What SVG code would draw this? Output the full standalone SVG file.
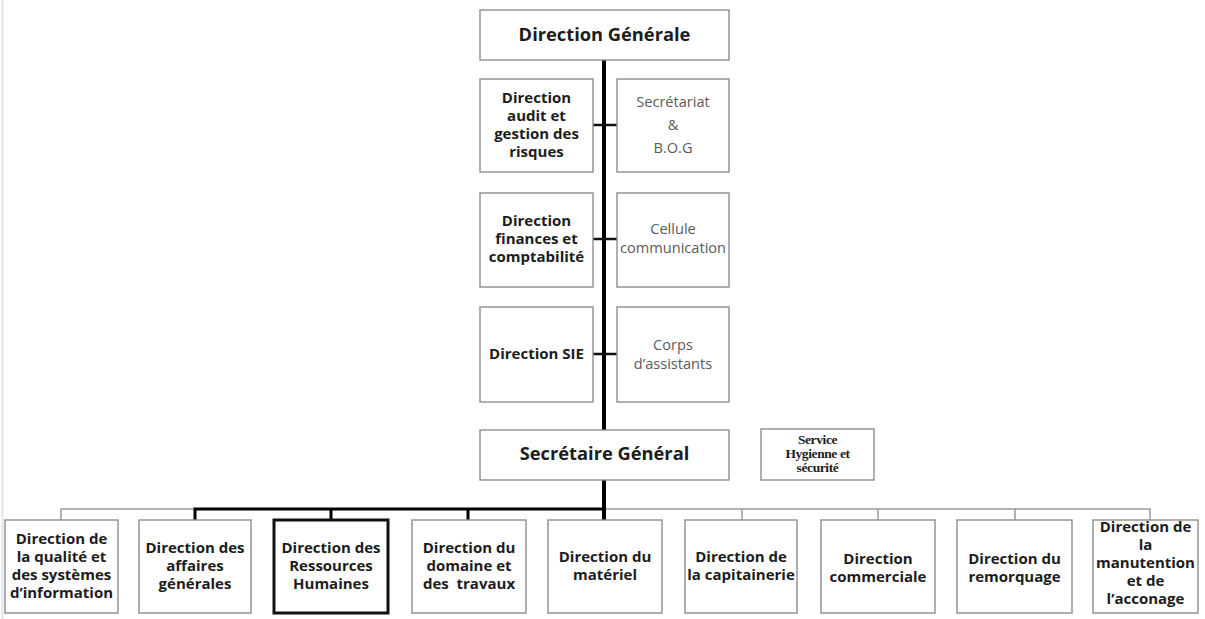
<svg xmlns="http://www.w3.org/2000/svg" width="1205" height="619" viewBox="0 0 1205 619">
  <style>
    .box { fill: #ffffff; stroke: #8e8e8e; stroke-width: 1.4; }
    .box-strong { fill: #ffffff; stroke: #111111; stroke-width: 3; }
    .t { font-family: "Open Sans", "Liberation Sans", sans-serif; font-weight: bold; font-size: 15px; fill: #1c1c1c; text-anchor: middle; }
    .t-big { font-family: "Open Sans", "Liberation Sans", sans-serif; font-weight: bold; font-size: 18.3px; fill: #1c1c1c; text-anchor: middle; }
    .t-light { font-family: "Open Sans", "Liberation Sans", sans-serif; font-size: 14.6px; fill: #5a5a5a; text-anchor: middle; }
    .t-serif { font-family: "Liberation Serif", "DejaVu Serif", serif; font-weight: bold; font-size: 13.5px; fill: #1c1c1c; text-anchor: middle; letter-spacing: -0.4px; }
    .link-main { stroke: #000000; stroke-width: 4; fill: none; }
    .link-strong { stroke: #000000; stroke-width: 3; fill: none; }
    .link-tie { stroke: #111111; stroke-width: 2.5; fill: none; }
    .link-thin { stroke: #9a9a9a; stroke-width: 1.5; fill: none; }
  </style>

  <rect x="0" y="0" width="1205" height="619" fill="#ffffff"/>
  <!-- page margin rule -->
  <line x1="2.5" y1="0" x2="2.5" y2="619" stroke="#dde6f0" stroke-width="2"/>

  <g id="connectors">
    <!-- thin branch bar and drops -->
    <path class="link-thin" d="M61 520 V509 H1150 V520"/>
    <path class="link-thin" d="M742 509 V520 M878 509 V520 M1015 509 V520"/>
    <!-- main spine -->
    <line class="link-main" x1="604" y1="60" x2="604" y2="430"/>
    <line class="link-main" x1="604" y1="480" x2="604" y2="520"/>
    <!-- heavy branch bar and drops -->
    <path class="link-strong" d="M195 520 V509 H604"/>
    <path class="link-strong" d="M331 509 V520 M468 509 V520"/>
    <!-- staff ties -->
    <line class="link-tie" x1="593" y1="125" x2="617" y2="125"/>
    <line class="link-tie" x1="593" y1="239" x2="617" y2="239"/>
    <line class="link-tie" x1="593" y1="354" x2="617" y2="354"/>
  </g>

  <g id="direction-generale">
    <rect class="box" x="480" y="10" width="249" height="50"/>
    <text class="t-big" x="604.5" y="41">Direction Générale</text>
  </g>

  <g id="direction-audit">
    <rect class="box" x="480" y="79" width="113" height="93"/>
    <text class="t" x="536.5" y="103">Direction</text>
    <text class="t" x="536.5" y="121">audit et</text>
    <text class="t" x="536.5" y="139">gestion des</text>
    <text class="t" x="536.5" y="157">risques</text>
  </g>

  <g id="secretariat">
    <rect class="box" x="617" y="79" width="112" height="93"/>
    <text class="t-light" x="673" y="107">Secrétariat</text>
    <text class="t-light" x="673" y="130">&amp;</text>
    <text class="t-light" x="673" y="153">B.O.G</text>
  </g>

  <g id="direction-finances">
    <rect class="box" x="480" y="193" width="113" height="94"/>
    <text class="t" x="536.5" y="226">Direction</text>
    <text class="t" x="536.5" y="244">finances et</text>
    <text class="t" x="536.5" y="262">comptabilité</text>
  </g>

  <g id="cellule-communication">
    <rect class="box" x="617" y="193" width="112" height="94"/>
    <text class="t-light" x="673" y="234">Cellule</text>
    <text class="t-light" x="673" y="253">communication</text>
  </g>

  <g id="direction-sie">
    <rect class="box" x="480" y="307" width="113" height="95"/>
    <text class="t" x="536.5" y="359">Direction SIE</text>
  </g>

  <g id="corps-assistants">
    <rect class="box" x="617" y="307" width="112" height="95"/>
    <text class="t-light" x="673" y="350">Corps</text>
    <text class="t-light" x="673" y="369">d’assistants</text>
  </g>

  <g id="secretaire-general">
    <rect class="box" x="480" y="430" width="249" height="50"/>
    <text class="t-big" x="604.5" y="460">Secrétaire Général</text>
  </g>

  <g id="service-hygiene">
    <rect class="box" x="761" y="429" width="113" height="51"/>
    <text class="t-serif" x="817.5" y="444">Service</text>
    <text class="t-serif" x="817.5" y="458">Hygienne et</text>
    <text class="t-serif" x="817.5" y="472">sécurité</text>
  </g>

  <g id="direction-qualite">
    <rect class="box" x="5" y="520" width="113" height="93"/>
    <text class="t" x="61.5" y="544">Direction de</text>
    <text class="t" x="61.5" y="562">la qualité et</text>
    <text class="t" x="61.5" y="580">des systèmes</text>
    <text class="t" x="61.5" y="598">d’information</text>
  </g>

  <g id="direction-affaires-generales">
    <rect class="box" x="139" y="520" width="112" height="93"/>
    <text class="t" x="195" y="553">Direction des</text>
    <text class="t" x="195" y="571">affaires</text>
    <text class="t" x="195" y="589">générales</text>
  </g>

  <g id="direction-ressources-humaines">
    <rect class="box-strong" x="274" y="520" width="114" height="93"/>
    <text class="t" x="331" y="553">Direction des</text>
    <text class="t" x="331" y="571">Ressources</text>
    <text class="t" x="331" y="589">Humaines</text>
  </g>

  <g id="direction-domaine-travaux">
    <rect class="box" x="412" y="520" width="114" height="93"/>
    <text class="t" x="469" y="553">Direction du</text>
    <text class="t" x="469" y="571">domaine et</text>
    <text class="t" x="469" y="589" xml:space="preserve">des  travaux</text>
  </g>

  <g id="direction-materiel">
    <rect class="box" x="548" y="520" width="114" height="93"/>
    <text class="t" x="605" y="562">Direction du</text>
    <text class="t" x="605" y="580">matériel</text>
  </g>

  <g id="direction-capitainerie">
    <rect class="box" x="685" y="520" width="112" height="93"/>
    <text class="t" x="741" y="562">Direction de</text>
    <text class="t" x="741" y="580">la capitainerie</text>
  </g>

  <g id="direction-commerciale">
    <rect class="box" x="821" y="520" width="114" height="93"/>
    <text class="t" x="878" y="564">Direction</text>
    <text class="t" x="878" y="582">commerciale</text>
  </g>

  <g id="direction-remorquage">
    <rect class="box" x="957" y="520" width="115" height="93"/>
    <text class="t" x="1014.5" y="564">Direction du</text>
    <text class="t" x="1014.5" y="582">remorquage</text>
  </g>

  <g id="direction-manutention">
    <rect class="box" x="1093" y="520" width="105" height="93"/>
    <text class="t" x="1145.5" y="532">Direction de</text>
    <text class="t" x="1145.5" y="550">la</text>
    <text class="t" x="1145.5" y="568">manutention</text>
    <text class="t" x="1145.5" y="586">et de</text>
    <text class="t" x="1145.5" y="604">l’acconage</text>
  </g>
</svg>
